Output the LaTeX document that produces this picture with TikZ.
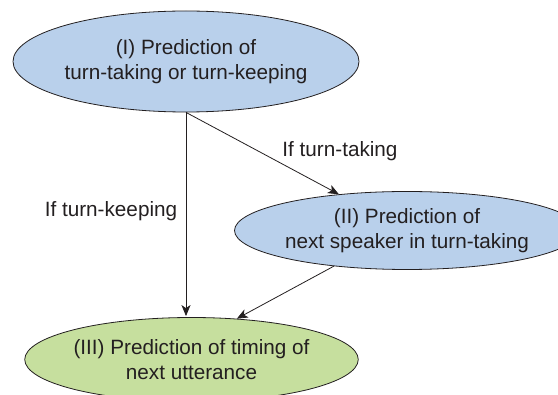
\documentclass[tikz,border=0pt]{standalone}
\usepackage{fontspec}
\setmainfont{Liberation Sans}
\usetikzlibrary{shapes.geometric,arrows.meta}
\definecolor{inkc}{RGB}{35,31,32}
\definecolor{bluefill}{RGB}{185,208,235}
\definecolor{greenfill}{RGB}{198,223,158}
\tikzset{
  bubble/.style={ellipse, draw=inkc, line width=0.8pt, inner sep=0pt, align=center,
    text=inkc, font=\fontsize{20.7}{24.5}\selectfont},
  conn/.style={draw=inkc, line width=0.8pt, -{Stealth[length=11pt,width=9pt,inset=3pt]}},
  lbl/.style={text=inkc, font=\fontsize{20.7}{24.5}\selectfont, inner sep=0pt}
}
\begin{document}
\begin{tikzpicture}[x=1pt,y=-1pt]
\useasboundingbox (0,0) rectangle (558,395);
\clip (0,0) rectangle (558,395);
\node[bubble, fill=bluefill, minimum width=346pt, minimum height=101pt] (I) at (186,61.5)
  {(I) Prediction of\\turn-taking or turn-keeping};
\node[bubble, fill=bluefill, minimum width=302pt, minimum height=78pt] (II) at (407,230.5)
  {(II) Prediction of\\next speaker in turn-taking};
\node[bubble, fill=greenfill, minimum width=303pt, minimum height=84pt] (III) at (191.5,359.5)
  {(III) Prediction of timing of\\next utterance};
\coordinate (vend) at (I.south |- III.north);
\draw[conn] (I.south) -- ([yshift=1pt]vend);
\draw[conn] (I.south) -- (II.152.5);
\draw[conn] (II.206) -- (III.42);
\node[lbl] (ltake) at (340,151.5) {If turn-taking};
\node[lbl] (lkeep) at (111,211.5) {If turn-keeping};
\end{tikzpicture}
\end{document}
